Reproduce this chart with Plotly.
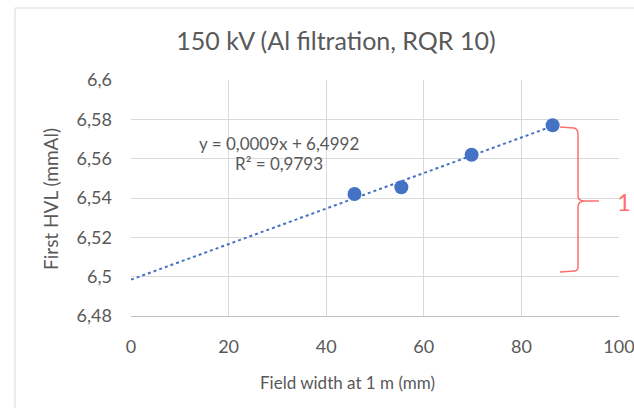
import numpy as np
import plotly.graph_objects as go

# ---- data ----
field_width_mm = [45.8, 55.4, 69.8, 86.4]
first_hvl_mmal = [6.542, 6.5455, 6.562, 6.577]
x_tick_vals = [0, 20, 40, 60, 80, 100]
x_tick_labels = ["0", "20", "40", "60", "80", "100"]
y_tick_vals = [6.48, 6.50, 6.52, 6.54, 6.56, 6.58, 6.60]
y_tick_labels = ["6,48", "6,5", "6,52", "6,54", "6,56", "6,58", "6,6"]
equation_line = "y = 0,0009x + 6,4992"
r2_line = "R² = 0,9793"
title_text = "150 kV (Al filtration, RQR 10)"
x_title = "Field width at 1 m (mm)"
y_title = "First HVL (mmAl)"

W, H = 634, 408
L, R, T, B = 131, 15, 80, 92
pw, ph = W - L - R, H - T - B

def px(xp):  # pixel x -> paper x
    return (xp - L) / pw

def py(yp):  # pixel y -> paper y
    return (H - B - yp) / ph

FONT = "Lato"
GREY = "#595959"
BLUE = "#4472C4"
RED = "#FF6F6F"

slope, intercept = np.polyfit(field_width_mm, first_hvl_mmal, 1)
trend_x = [0, max(field_width_mm)]
trend_y = [intercept + slope * v for v in trend_x]

fig = go.Figure()
fig.add_trace(go.Scatter(x=trend_x, y=trend_y, mode="lines",
                         line=dict(color=BLUE, width=2, dash="dot"),
                         hoverinfo="skip", showlegend=False))
fig.add_trace(go.Scatter(x=field_width_mm, y=first_hvl_mmal, mode="markers",
                         marker=dict(color=BLUE, size=14), showlegend=False))

fig.update_layout(
    width=W, height=H,
    margin=dict(l=L, r=R, t=T, b=B),
    paper_bgcolor="white", plot_bgcolor="white",
    font=dict(family=FONT, color=GREY),
    separators=", ",
    title=dict(text=title_text, x=336 / W, xanchor="center",
               y=1 - 41 / H, yanchor="middle",
               font=dict(size=25, color=GREY, family=FONT)),
    xaxis=dict(range=[0, 100], tickvals=x_tick_vals, ticktext=x_tick_labels,
               showgrid=True, gridcolor="#D9D9D9", gridwidth=1,
               zeroline=False, showline=True, linecolor="#BFBFBF",
               automargin=False, ticklabeloverflow="allow",
               tickfont=dict(size=18, color=GREY), ticklabelstandoff=14),
    yaxis=dict(range=[6.48, 6.60], tickvals=y_tick_vals, ticktext=y_tick_labels,
               showgrid=True, gridcolor="#D9D9D9", gridwidth=1,
               zeroline=False, showline=False, automargin=False,
               tickfont=dict(size=18, color=GREY), ticklabelstandoff=18),
    showlegend=False,
)

annotations = [
    dict(text=x_title, xref="paper", yref="paper", x=px(347), y=py(382),
         xanchor="center", yanchor="middle", showarrow=False,
         font=dict(size=17, color=GREY, family=FONT)),
    dict(text=y_title, xref="paper", yref="paper", x=px(50), y=py(199),
         xanchor="center", yanchor="middle", textangle=-90, showarrow=False,
         font=dict(size=19, color=GREY, family=FONT)),
    dict(text=equation_line, xref="paper", yref="paper", x=px(279), y=py(143),
         xanchor="center", yanchor="middle", showarrow=False,
         font=dict(size=17, color=GREY, family=FONT)),
    dict(text=r2_line, xref="paper", yref="paper", x=px(279), y=py(163),
         xanchor="center", yanchor="middle", showarrow=False,
         font=dict(size=17, color=GREY, family=FONT)),
    dict(text="1", xref="paper", yref="paper", x=px(633), y=py(201),
         xanchor="right", yanchor="middle", showarrow=False,
         font=dict(size=24, color=RED, family=FONT)),
]
fig.update_layout(annotations=annotations)

# brace (decoration) and chart border
brace = (f"M {px(560)} {py(127)} L {px(574)} {py(128)} Q {px(578)} {py(129)} {px(578)} {py(134)} "
         f"L {px(578)} {py(196)} Q {px(578)} {py(201)} {px(585)} {py(201)} L {px(599)} {py(201)} "
         f"M {px(585)} {py(201)} Q {px(578)} {py(201)} {px(578)} {py(207)} "
         f"L {px(578)} {py(267)} Q {px(578)} {py(271)} {px(574)} {py(271)} L {px(560)} {py(272)}")
fig.add_shape(type="path", path=brace, xref="paper", yref="paper",
              line=dict(color=RED, width=1.5))
fig.add_shape(type="rect", xref="paper", yref="paper",
              x0=px(15), y0=py(420), x1=px(650), y1=py(8),
              line=dict(color="#D9D9D9", width=1), layer="below")

fig.write_html("out.html")
